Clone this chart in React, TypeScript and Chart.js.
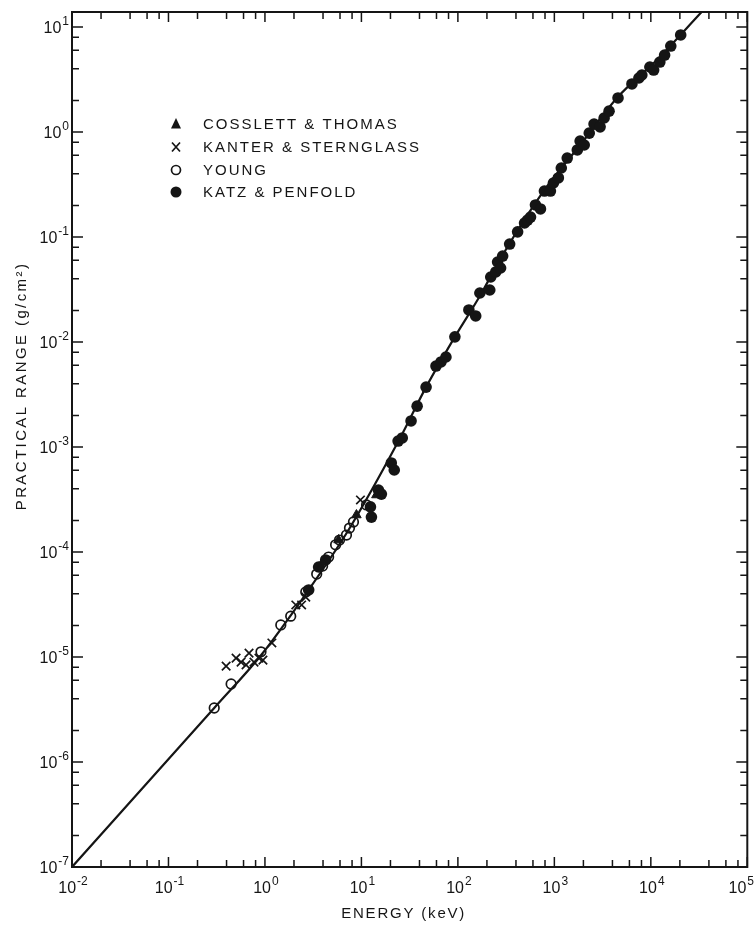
import React, { useEffect, useRef } from 'react';
import { Chart, registerables } from 'chart.js';

Chart.register(...registerables);

const INK = '#151515';
const FONT = '"Liberation Sans", Arial, sans-serif';
const CANVAS_W = 755;
const CANVAS_H = 926;

// Axis ranges
const X_MIN = 0.01;
const X_MAX = 1e5;
const Y_MIN = 1e-7;
const Y_MAX = 13.9;

// Tick values and labels (base "10" with exponent)
const TICK_BASE = '10';
const X_TICKS = [1e-2, 1e-1, 1, 10, 100, 1e3, 1e4, 1e5];
const X_TICK_EXPONENTS = ['-2', '-1', '0', '1', '2', '3', '4', '5'];
const Y_TICKS = [1e-7, 1e-6, 1e-5, 1e-4, 1e-3, 1e-2, 1e-1, 1, 10];
const Y_TICK_EXPONENTS = ['-7', '-6', '-5', '-4', '-3', '-2', '-1', '0', '1'];
const MINOR_STEPS = [2, 4, 6, 8];

const X_TITLE = 'ENERGY (keV)';
const Y_TITLE = 'PRACTICAL RANGE (g/cm²)';
const SERIES_NAMES = ['COSSLETT & THOMAS', 'KANTER & STERNGLASS', 'YOUNG', 'KATZ & PENFOLD'];

// Cosslett & Thomas (triangles)
const COSSLETT_E = [5.79, 8.88, 14.3];
const COSSLETT_R = [1.3e-4, 2.25e-4, 3.49e-4];

// Kanter & Sternglass (x)
const KANTER_E = [0.396, 0.502, 0.566, 0.637, 0.684, 0.77, 0.867, 0.953, 1.18, 2.09, 2.4, 2.65, 9.77];
const KANTER_R = [8.2e-6, 9.77e-6, 8.95e-6, 8.4e-6, 1.09e-5, 8.95e-6, 9.77e-6, 9.35e-6, 1.36e-5, 3.13e-5, 3.13e-5, 3.72e-5, 3.13e-4];

// Young (open circles)
const YOUNG_E = [0.298, 0.446, 0.91, 1.46, 1.85, 2.65, 3.44, 3.96, 4.57, 5.4, 5.93, 7.0, 7.52, 8.27, 11.3];
const YOUNG_R = [3.27e-6, 5.53e-6, 1.12e-5, 2.02e-5, 2.45e-5, 4.16e-5, 6.16e-5, 7.36e-5, 8.95e-5, 1.17e-4, 1.3e-4, 1.45e-4, 1.69e-4, 1.93e-4, 2.81e-4];

// Katz & Penfold (filled circles)
const KATZ_E = [2.84, 3.6, 4.26, 12.4, 12.7, 15.0, 16.1, 20.4, 21.9, 24.0, 26.5, 32.7, 37.8, 46.8, 59.3, 66.8, 75.2, 93.1, 130, 153, 169, 214, 219, 247, 258, 277, 291, 344, 416, 491, 527, 566, 637, 718, 789, 910, 977, 1100, 1180, 1360, 1730, 1850, 2040, 2300, 2580, 2980, 3280, 3690, 4570, 6370, 7520, 8070, 9770, 10700, 12400, 13900, 16100, 20400];
const KATZ_R = [4.35e-5, 7.2e-5, 8.4e-5, 2.69e-4, 2.15e-4, 3.89e-4, 3.56e-4, 7.05e-4, 6.04e-4, 1.14e-3, 1.22e-3, 1.77e-3, 2.45e-3, 3.72e-3, 5.9e-3, 6.46e-3, 7.2e-3, 1.12e-2, 2.02e-2, 1.77e-2, 2.93e-2, 3.13e-2, 4.16e-2, 4.65e-2, 5.78e-2, 5.07e-2, 6.59e-2, 8.57e-2, 0.112, 0.136, 0.145, 0.155, 0.202, 0.185, 0.274, 0.274, 0.327, 0.365, 0.454, 0.565, 0.675, 0.82, 0.752, 0.977, 1.19, 1.12, 1.36, 1.58, 2.11, 2.87, 3.27, 3.49, 4.16, 3.89, 4.64, 5.41, 6.59, 8.4];

// Fitted curve
const CURVE_E = [0.01, 0.298, 0.91, 2.65, 7.35, 24, 46.8, 93, 169, 291, 789, 1853, 4457, 11530, 33600];
const CURVE_R = [1e-7, 3.27e-6, 1.04e-5, 3.98e-5, 1.62e-4, 1.12e-3, 3.72e-3, 1.12e-2, 2.74e-2, 6.74e-2, 0.281, 0.752, 2.11, 4.85, 13.9];

const pts = (xs: number[], ys: number[]) => xs.map((x, i) => ({ x, y: ys[i] }));

function drawMarker(ctx: CanvasRenderingContext2D, style: string, x: number, y: number) {
  ctx.save();
  ctx.strokeStyle = INK;
  ctx.fillStyle = INK;
  ctx.lineWidth = 1.7;
  if (style === 'triangle') {
    ctx.beginPath();
    ctx.moveTo(x, y - 6);
    ctx.lineTo(x + 5, y + 4.5);
    ctx.lineTo(x - 5, y + 4.5);
    ctx.closePath();
    ctx.fill();
  } else if (style === 'crossRot') {
    ctx.beginPath();
    ctx.moveTo(x - 4, y - 4.5);
    ctx.lineTo(x + 4, y + 4.5);
    ctx.moveTo(x + 4, y - 4.5);
    ctx.lineTo(x - 4, y + 4.5);
    ctx.stroke();
  } else if (style === 'open') {
    ctx.beginPath();
    ctx.arc(x, y, 4.5, 0, Math.PI * 2);
    ctx.stroke();
  } else {
    ctx.beginPath();
    ctx.arc(x, y, 5.5, 0, Math.PI * 2);
    ctx.fill();
  }
  ctx.restore();
}

function drawPowerLabel(ctx: CanvasRenderingContext2D, exp: string, x: number, baseY: number, align: 'center' | 'right') {
  ctx.font = `16px ${FONT}`;
  const wBase = ctx.measureText(TICK_BASE).width;
  ctx.font = `12px ${FONT}`;
  const wExp = ctx.measureText(exp).width;
  const total = wBase + 1 + wExp;
  let left = align === 'center' ? x - total / 2 : x - total;
  if (left + total > CANVAS_W - 1) left = CANVAS_W - 1 - total;
  ctx.textAlign = 'left';
  ctx.textBaseline = 'alphabetic';
  ctx.font = `16px ${FONT}`;
  ctx.fillText(TICK_BASE, left, baseY);
  ctx.font = `12px ${FONT}`;
  ctx.fillText(exp, left + wBase + 1, baseY - 8);
}

const framePlugin = {
  id: 'framePlugin',
  afterDraw(chart: any) {
    const { ctx, chartArea: a, scales } = chart;
    const xs = scales.x;
    const ys = scales.y;
    ctx.save();
    ctx.strokeStyle = INK;
    ctx.lineWidth = 2;
    ctx.strokeRect(a.left, a.top, a.right - a.left, a.bottom - a.top);

    ctx.lineWidth = 1.5;
    const xTickVals: [number, boolean][] = [];
    X_TICKS.forEach((v) => {
      xTickVals.push([v, true]);
      MINOR_STEPS.forEach((m) => { if (v * m < X_MAX) xTickVals.push([v * m, false]); });
    });
    xTickVals.forEach(([v, major]) => {
      const px = xs.getPixelForValue(v);
      const len = major ? 10 : 7;
      ctx.beginPath();
      ctx.moveTo(px, a.bottom);
      ctx.lineTo(px, a.bottom - len);
      ctx.moveTo(px, a.top);
      ctx.lineTo(px, a.top + len);
      ctx.stroke();
    });
    const yTickVals: [number, boolean][] = [];
    Y_TICKS.forEach((v) => {
      yTickVals.push([v, true]);
      MINOR_STEPS.forEach((m) => { if (v * m < Y_MAX) yTickVals.push([v * m, false]); });
    });
    yTickVals.forEach(([v, major]) => {
      const py = ys.getPixelForValue(v);
      const len = major ? 11 : 7;
      ctx.beginPath();
      ctx.moveTo(a.left, py);
      ctx.lineTo(a.left + len, py);
      ctx.moveTo(a.right, py);
      ctx.lineTo(a.right - len, py);
      ctx.stroke();
    });

    // Tick labels
    ctx.fillStyle = INK;
    X_TICKS.forEach((v, i) => {
      drawPowerLabel(ctx, X_TICK_EXPONENTS[i], xs.getPixelForValue(v) + 1, a.bottom + 26, 'center');
    });
    Y_TICKS.forEach((v, i) => {
      drawPowerLabel(ctx, Y_TICK_EXPONENTS[i], a.left - 3, ys.getPixelForValue(v) + 6, 'right');
    });

    // Axis titles
    (ctx as any).letterSpacing = '1.8px';
    ctx.font = `15px ${FONT}`;
    ctx.textAlign = 'center';
    ctx.textBaseline = 'middle';
    ctx.fillText(X_TITLE, (a.left + a.right) / 2 - 6, 914);
    ctx.save();
    (ctx as any).letterSpacing = '2.4px';
    ctx.translate(22, 386);
    ctx.rotate(-Math.PI / 2);
    ctx.fillText(Y_TITLE, 0, 0);
    ctx.restore();

    // Legend
    const legendY = [124, 147, 170, 192];
    (ctx as any).letterSpacing = '2px';
    ctx.font = `15px ${FONT}`;
    ctx.textAlign = 'left';
    ctx.textBaseline = 'middle';
    chart.data.datasets.slice(0, 4).forEach((d: any, i: number) => {
      drawMarker(ctx, d.legendStyle, 176, legendY[i]);
      ctx.fillStyle = INK;
      ctx.fillText(d.label, 203, legendY[i] + 1);
    });
    ctx.restore();
  },
};

export default function App() {
  const ref = useRef<HTMLCanvasElement | null>(null);
  useEffect(() => {
    if (!ref.current) return;
    const chart = new Chart(ref.current, {
      type: 'scatter',
      data: {
        datasets: [
          {
            label: SERIES_NAMES[0],
            legendStyle: 'triangle',
            data: pts(COSSLETT_E, COSSLETT_R),
            pointStyle: 'triangle',
            pointRadius: 5.5,
            backgroundColor: INK,
            borderColor: INK,
            borderWidth: 1,
          } as any,
          {
            label: SERIES_NAMES[1],
            legendStyle: 'crossRot',
            data: pts(KANTER_E, KANTER_R),
            pointStyle: 'crossRot',
            pointRadius: 6,
            backgroundColor: INK,
            borderColor: INK,
            borderWidth: 1.7,
          } as any,
          {
            label: SERIES_NAMES[2],
            legendStyle: 'open',
            data: pts(YOUNG_E, YOUNG_R),
            pointStyle: 'circle',
            pointRadius: 4.8,
            backgroundColor: 'rgba(255,255,255,0)',
            borderColor: INK,
            borderWidth: 1.7,
          } as any,
          {
            label: SERIES_NAMES[3],
            legendStyle: 'filled',
            data: pts(KATZ_E, KATZ_R),
            pointStyle: 'circle',
            pointRadius: 5.8,
            backgroundColor: INK,
            borderColor: INK,
            borderWidth: 0,
          } as any,
          {
            label: 'curve',
            data: pts(CURVE_E, CURVE_R),
            showLine: true,
            pointRadius: 0,
            borderColor: INK,
            borderWidth: 2.2,
            cubicInterpolationMode: 'monotone',
            fill: false,
          } as any,
        ],
      },
      options: {
        animation: false,
        responsive: false,
        maintainAspectRatio: false,
        layout: { padding: { top: 12, right: 4, left: 0, bottom: 0 } },
        plugins: { legend: { display: false }, tooltip: { enabled: false } },
        scales: {
          x: {
            type: 'logarithmic',
            position: 'bottom',
            min: X_MIN,
            max: X_MAX,
            grid: { display: false, drawTicks: false },
            border: { display: false },
            afterBuildTicks: (s: any) => { s.ticks = X_TICKS.map((v) => ({ value: v })); },
            afterFit: (s: any) => { s.height = 59; s.paddingLeft = 0; s.paddingRight = 0; },
            ticks: { display: false, autoSkip: false },
          },
          y: {
            type: 'logarithmic',
            position: 'left',
            min: Y_MIN,
            max: Y_MAX,
            grid: { display: false, drawTicks: false },
            border: { display: false },
            afterBuildTicks: (s: any) => { s.ticks = Y_TICKS.map((v) => ({ value: v })); },
            afterFit: (s: any) => { s.width = 72; s.paddingTop = 0; s.paddingBottom = 0; },
            ticks: { display: false, autoSkip: false },
          },
        },
      } as any,
      plugins: [framePlugin],
    });
    return () => chart.destroy();
  }, []);

  return (
    <div style={{ position: 'absolute', left: 0, top: 0, width: CANVAS_W, height: CANVAS_H, background: '#fff' }}>
      <canvas ref={ref} width={CANVAS_W} height={CANVAS_H} style={{ display: 'block', width: CANVAS_W, height: CANVAS_H }} />
    </div>
  );
}
